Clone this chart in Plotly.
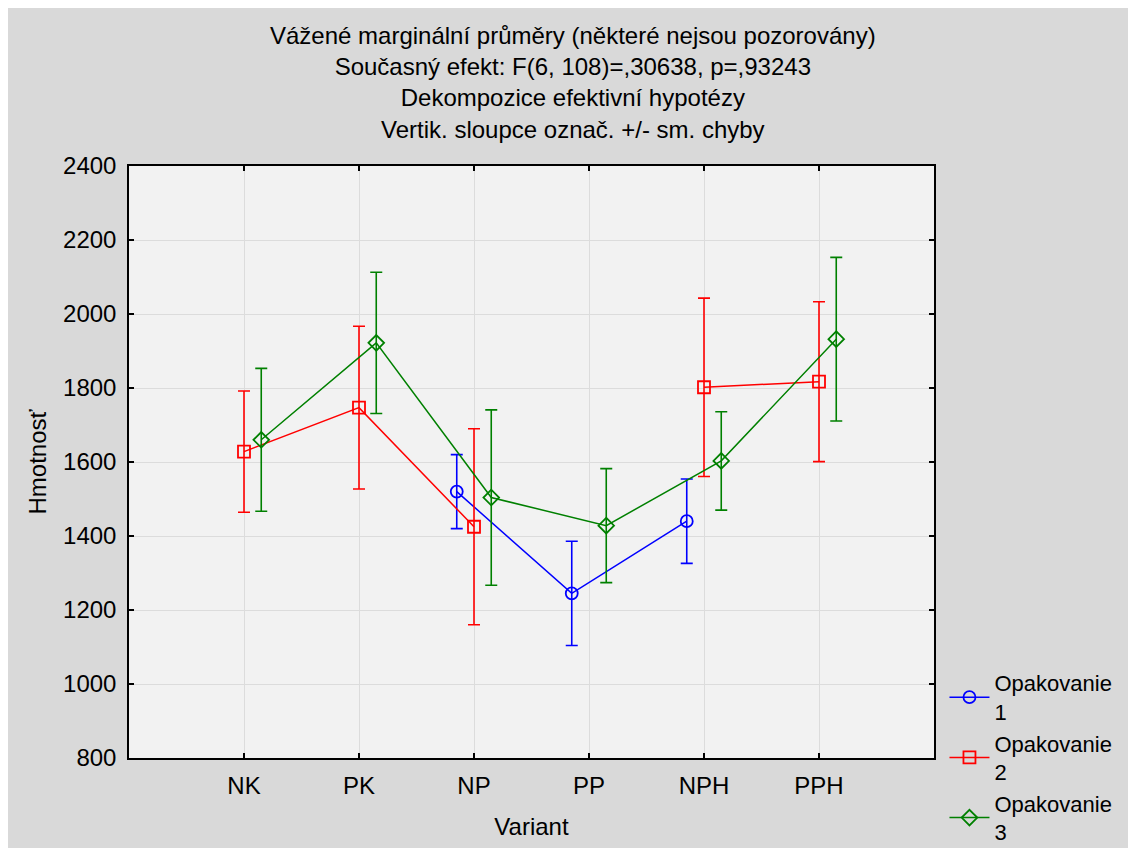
import plotly.graph_objects as go

categories = ["NK", "PK", "NP", "PP", "NPH", "PPH"]

rep1_mean = [None, None, 1520, 1245, 1440, None]
rep1_se = [None, None, 100, 141, 114, None]

rep2_mean = [1628, 1747, 1425, None, 1802, 1817]
rep2_se = [164, 220, 265, None, 241, 216]

rep3_mean = [1660, 1922, 1504, 1428, 1603, 1932]
rep3_se = [193, 191, 237, 154, 133, 221]

series_names = ["Opakovanie<br>1", "Opakovanie<br>2", "Opakovanie<br>3"]
y_ticks = [800, 1000, 1200, 1400, 1600, 1800, 2000, 2200, 2400]

title_lines = [
    "Vážené marginální průměry (některé nejsou pozorovány)",
    "Současný efekt: F(6, 108)=,30638, p=,93243",
    "Dekompozice efektivní hypotézy",
    "Vertik. sloupce označ. +/- sm. chyby",
]

FONT = "Liberation Sans, Arial, sans-serif"
W, H = 1136, 848
L, R, T, B = 121, 210, 158, 98

fig = go.Figure()

specs = [
    (rep1_mean, rep1_se, "#0000ff", "circle-open", -0.15, 12),
    (rep2_mean, rep2_se, "#ff0000", "square-open", 0.0, 12),
    (rep3_mean, rep3_se, "#008000", "diamond-open", 0.15, 12),
]
for (mean, se, color, sym, off, msize), name in zip(specs, series_names):
    xs = [i + off for i in range(len(categories))]
    fig.add_trace(go.Scatter(
        x=xs, y=mean, name=name, mode="lines+markers",
        connectgaps=False,
        line=dict(color=color, width=1.5),
        marker=dict(symbol=sym, size=msize, color=color, line=dict(width=1.8, color=color)),
        error_y=dict(type="data", array=[s if s is not None else 0 for s in se],
                     visible=True, color=color, thickness=1.6, width=6),
    ))

pw, ph = W - L - R, H - T - B

fig.update_layout(
    width=W, height=H,
    margin=dict(l=L, r=R, t=T, b=B, autoexpand=False),
    paper_bgcolor="#d9d9d9",
    plot_bgcolor="#f2f2f2",
    font=dict(family=FONT, size=24, color="black"),
    showlegend=True,
    legend=dict(
        x=1.013, xanchor="left", y=0.162, yanchor="top",
        bgcolor="rgba(0,0,0,0)", font=dict(size=22),
        itemwidth=40, tracegroupgap=0,
    ),
)

fig.update_xaxes(
    range=[-1, 6], tickmode="array", tickvals=list(range(len(categories))),
    ticktext=categories, showgrid=True, gridcolor="#dcdcdc", gridwidth=1,
    showline=True, linecolor="black", linewidth=1.5, mirror="ticks",
    ticks="inside", ticklen=5, tickcolor="black", tickwidth=1.5,
    zeroline=False, ticklabelstandoff=5, tickfont=dict(size=24),
    automargin=False,
    title=dict(text="Variant", standoff=21, font=dict(size=24)),
)
fig.update_yaxes(
    range=[800, 2400], tickmode="array", tickvals=y_ticks,
    showgrid=True, gridcolor="#dcdcdc", gridwidth=1,
    showline=True, linecolor="black", linewidth=1.5, mirror="ticks",
    ticks="inside", ticklen=5, tickcolor="black", tickwidth=1.5,
    zeroline=False, ticklabelstandoff=6, tickfont=dict(size=24),
    automargin=False,
    title=dict(text="Hmotnosť", standoff=10, font=dict(size=24)),
)

cx = (565 - L) / pw
fig.add_annotation(
    text="<br>".join(title_lines), xref="paper", yref="paper",
    x=cx, y=(H - B - 12) / ph, xanchor="center", yanchor="top",
    showarrow=False, font=dict(size=24, family=FONT), align="center",
)

fig.write_html("out.html")
